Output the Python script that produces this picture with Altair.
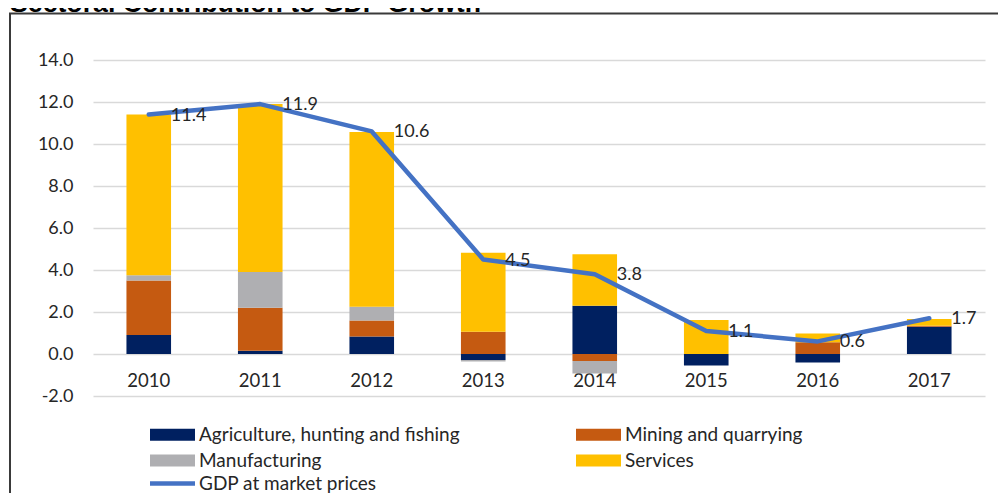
import altair as alt
import pandas as pd

# ---- data ----
years = ["2010", "2011", "2012", "2013", "2014", "2015", "2016", "2017"]
sectors = ["Agriculture, hunting and fishing", "Mining and quarrying", "Manufacturing", "Services"]
agriculture = [0.9, 0.15, 0.83, -0.28, 2.3, -0.55, -0.4, 1.3]
mining = [2.6, 2.05, 0.76, 1.06, -0.33, 0.0, 0.56, 0.05]
manufacturing = [0.25, 1.7, 0.66, -0.08, -0.6, 0.0, 0.0, 0.0]
services = [7.65, 8.0, 8.32, 3.76, 2.45, 1.62, 0.42, 0.32]
gdp = [11.4, 11.9, 10.6, 4.5, 3.8, 1.1, 0.6, 1.7]
gdp_label = "GDP at market prices"
title_text = "Sectoral Contribution to GDP Growth"
y_ticks = [-2, 0, 2, 4, 6, 8, 10, 12, 14]

sector_colors = ["#002060", "#C55A11", "#AFAFB2", "#FFC000"]
line_color = "#4472C4"
text_color = "#262626"
FONT = "Lato"

# ---- tables ----
rows = []
for series_vals, name, idx in zip([agriculture, mining, manufacturing, services], sectors, range(4)):
    for y, v in zip(years, series_vals):
        rows.append({"year": y, "sector": name, "value": v, "order": idx})
bars_df = pd.DataFrame(rows)
line_df = pd.DataFrame({"year": years, "gdp": gdp, "series": [gdp_label] * len(years)})
one = pd.DataFrame({"t": [title_text]})

x_enc = alt.X(
    "year:N",
    sort=years,
    scale=alt.Scale(paddingInner=0.6, paddingOuter=0.3),
    axis=alt.Axis(title=None, labelAngle=0, ticks=False, domain=False, grid=False,
                  offset=-42, labelPadding=17, labelFont=FONT, labelFontSize=18.5,
                  labelColor=text_color),
)
y_scale = alt.Scale(domain=[-2, 14], nice=False, zero=False)
y_axis = alt.Axis(title=None, values=y_ticks, ticks=False, domain=False,
                  labelPadding=20, labelFont=FONT, labelFontSize=18,
                  labelColor=text_color, gridColor="#D9D9D9", gridWidth=1.5,
                  labelExpr="datum.value < 0 ? '-' + format(-datum.value, '.1f') : format(datum.value, '.1f')")

bars = alt.Chart(bars_df).mark_bar().encode(
    x=x_enc,
    y=alt.Y("value:Q", stack="zero", scale=y_scale, axis=y_axis),
    color=alt.Color("sector:N", scale=alt.Scale(domain=sectors, range=sector_colors),
                    legend=alt.Legend(title=None, orient="none", legendX=70, legendY=365,
                                      direction="horizontal", columns=2, columnPadding=116,
                                      rowPadding=6, padding=0,
                                      symbolType="M-5,-1.333H5V1.333H-5Z", symbolSize=81,
                                      symbolStrokeWidth=0, labelOffset=17,
                                      labelFont=FONT, labelFontSize=19, labelColor=text_color,
                                      labelLimit=600)),
    order=alt.Order("order:Q", sort="ascending"),
)

line = alt.Chart(line_df).mark_line(strokeWidth=4.5, strokeJoin="round", strokeCap="round").encode(
    x=alt.X("year:N", sort=years),
    y=alt.Y("gdp:Q", scale=y_scale, axis=y_axis),
    stroke=alt.Stroke("series:N", scale=alt.Scale(domain=[gdp_label], range=[line_color]),
                      legend=alt.Legend(title=None, orient="none", legendX=70, legendY=414,
                                        padding=0, symbolType="M-5,0H5", symbolSize=81,
                                        symbolStrokeWidth=4.5, symbolFillColor="transparent",
                                        labelOffset=17,
                                        labelFont=FONT, labelFontSize=19, labelColor=text_color,
                                        labelLimit=600)),
)

labels = alt.Chart(line_df).mark_text(align="left", baseline="middle", dx=22, dy=1,
                                      font=FONT, fontSize=18, color=text_color).encode(
    x=alt.X("year:N", sort=years),
    y=alt.Y("gdp:Q", scale=y_scale, axis=y_axis),
    text=alt.Text("gdp:Q", format=".1f"),
)

frame = alt.Chart(one).mark_rect(fillOpacity=0, stroke="#3A3A3A", strokeWidth=2).encode(
    x=alt.value(-83), x2=alt.value(960), y=alt.value(-46.5), y2=alt.value(520)
)

title = alt.Chart(one).mark_text(align="left", baseline="alphabetic", font="Liberation Sans",
                                 fontWeight="bold", fontSize=26.7, color="#000000").encode(
    text="t:N", x=alt.value(-83), y=alt.value(-48)
)

chart = alt.layer(frame, title, bars, line, labels).properties(
    width=892, height=336,
    autosize=alt.AutoSizeParams(type="none"),
    padding={"left": 85, "top": 52, "right": 13, "bottom": 97},
).configure(background="white").configure_view(stroke=None)

chart.save("out.html", embed_options={"renderer": "svg", "actions": False})
